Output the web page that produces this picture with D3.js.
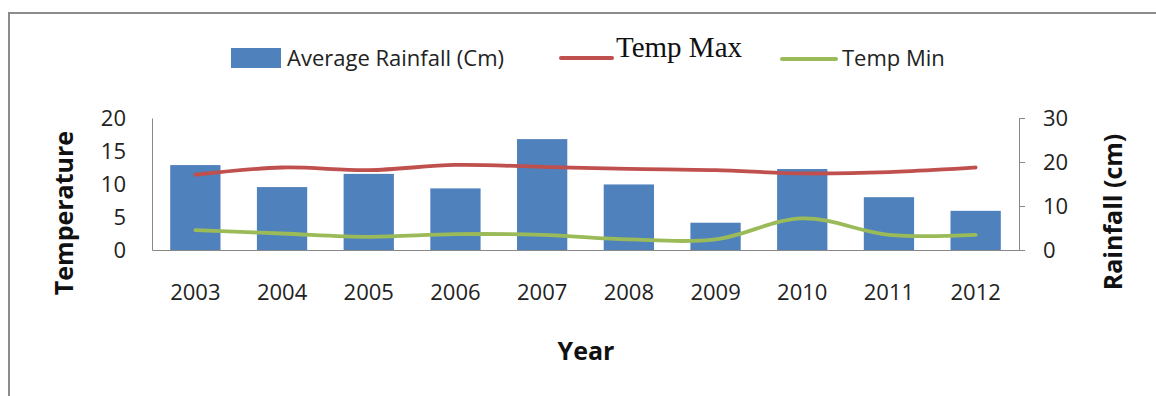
<!DOCTYPE html>
<html>
<head>
<meta charset="utf-8">
<script src="https://cdn.jsdelivr.net/npm/d3@7"></script>
<style>
  html, body { margin: 0; padding: 0; background: #fff; }
  svg { display: block; }
  .tick text { font-family: "Open Sans", sans-serif; font-size: 22px; fill: #222; }
</style>
</head>
<body>
<svg id="chart" width="1156" height="396"></svg>
<script>
// Yearly climate record
const years = ["2003", "2004", "2005", "2006", "2007", "2008", "2009", "2010", "2011", "2012"];
const rainfall = [19.3, 14.3, 17.3, 14.0, 25.2, 14.9, 6.2, 18.4, 12.0, 8.9];   // cm, right axis
const tempMax  = [11.4, 12.5, 12.1, 12.9, 12.6, 12.3, 12.1, 11.6, 11.8, 12.5]; // left axis
const tempMin  = [3.0, 2.5, 2.0, 2.4, 2.3, 1.6, 1.6, 4.8, 2.3, 2.3];           // left axis
const tempTicks = [0, 5, 10, 15, 20];
const rainTicks = [0, 10, 20, 30];

const colors = { rain: "#4F81BD", max: "#C0504D", min: "#9BBB59", axis: "#888888" };

const svg = d3.select("#chart");
const plot = { left: 152, right: 1019, top: 118, bottom: 250 };

// Outer frame (left and top edges)
svg.append("path")
  .attr("d", `M9,396 V13 H1156`)
  .attr("fill", "none")
  .attr("stroke", "#8c8c8c")
  .attr("stroke-width", 2);

const x = d3.scaleBand()
  .domain(years)
  .range([plot.left, plot.right])
  .paddingInner(0.42)
  .paddingOuter(0.21);

const yTemp = d3.scaleLinear().domain([0, 20]).range([plot.bottom, plot.top]);
const yRain = d3.scaleLinear().domain([0, 30]).range([plot.bottom, plot.top]);

// Rainfall bars
svg.append("g").selectAll("rect")
  .data(years.map((y, i) => ({ year: y, v: rainfall[i] })))
  .join("rect")
  .attr("x", d => x(d.year))
  .attr("width", x.bandwidth())
  .attr("y", d => yRain(d.v))
  .attr("height", d => yRain(0) - yRain(d.v))
  .attr("fill", colors.rain);

// Left axis (temperature)
const gLeft = svg.append("g")
  .attr("transform", `translate(${plot.left},0)`)
  .call(d3.axisLeft(yTemp).tickValues(tempTicks).tickSizeInner(0).tickSizeOuter(0).tickPadding(26));
gLeft.select(".domain").attr("stroke", colors.axis);

// Right axis (rainfall)
const gRight = svg.append("g")
  .attr("transform", `translate(${plot.right},0)`)
  .call(d3.axisRight(yRain).tickValues(rainTicks).tickSizeInner(6).tickSizeOuter(0).tickPadding(18));
gRight.select(".domain").attr("stroke", colors.axis);
gRight.selectAll(".tick line").attr("stroke", colors.axis);

// Category axis
const gBottom = svg.append("g")
  .attr("transform", `translate(0,${plot.bottom})`)
  .call(d3.axisBottom(x).tickSizeInner(0).tickSizeOuter(0).tickPadding(34));
gBottom.select(".domain").attr("stroke", colors.axis);

// Temperature lines
const cx = (d, i) => x(years[i]) + x.bandwidth() / 2;
const lineT = d3.line().x(cx).y(d => yTemp(d)).curve(d3.curveCatmullRom.alpha(0.5));

[[tempMax, colors.max], [tempMin, colors.min]].forEach(([vals, c]) => {
  svg.append("path")
    .datum(vals)
    .attr("d", lineT)
    .attr("fill", "none")
    .attr("stroke", c)
    .attr("stroke-width", 3.8)
    .attr("stroke-linecap", "round")
    .attr("stroke-linejoin", "round");
});

// Axis titles
svg.append("text")
  .attr("transform", "translate(73,213) rotate(-90)")
  .attr("text-anchor", "middle")
  .attr("font-family", "'Open Sans', sans-serif")
  .attr("font-weight", "bold")
  .attr("font-size", 25)
  .attr("fill", "#111")
  .text("Temperature");

svg.append("text")
  .attr("transform", "translate(1122,212) rotate(-90)")
  .attr("text-anchor", "middle")
  .attr("font-family", "'Open Sans', sans-serif")
  .attr("font-weight", "bold")
  .attr("font-size", 25)
  .attr("fill", "#111")
  .text("Rainfall (cm)");

svg.append("text")
  .attr("x", 586)
  .attr("y", 360)
  .attr("text-anchor", "middle")
  .attr("font-family", "'Open Sans', sans-serif")
  .attr("font-weight", "bold")
  .attr("font-size", 25)
  .attr("fill", "#111")
  .text("Year");

// Legend
const legend = svg.append("g");
legend.append("rect")
  .attr("x", 231).attr("y", 48).attr("width", 50).attr("height", 20)
  .attr("fill", colors.rain);
legend.append("text")
  .attr("x", 287).attr("y", 66)
  .attr("font-family", "'Open Sans', sans-serif").attr("font-size", 22).attr("fill", "#222")
  .text("Average Rainfall (Cm)");

legend.append("line")
  .attr("x1", 561).attr("x2", 612).attr("y1", 58).attr("y2", 58)
  .attr("stroke", colors.max).attr("stroke-width", 4).attr("stroke-linecap", "round");
legend.append("text")
  .attr("x", 616).attr("y", 57)
  .attr("font-family", "'Liberation Serif', serif").attr("font-size", 29).attr("fill", "#111")
  .text("Temp Max");

legend.append("line")
  .attr("x1", 782).attr("x2", 836).attr("y1", 59).attr("y2", 59)
  .attr("stroke", colors.min).attr("stroke-width", 4).attr("stroke-linecap", "round");
legend.append("text")
  .attr("x", 842).attr("y", 66)
  .attr("font-family", "'Open Sans', sans-serif").attr("font-size", 22).attr("fill", "#222")
  .text("Temp Min");
</script>
</body>
</html>
